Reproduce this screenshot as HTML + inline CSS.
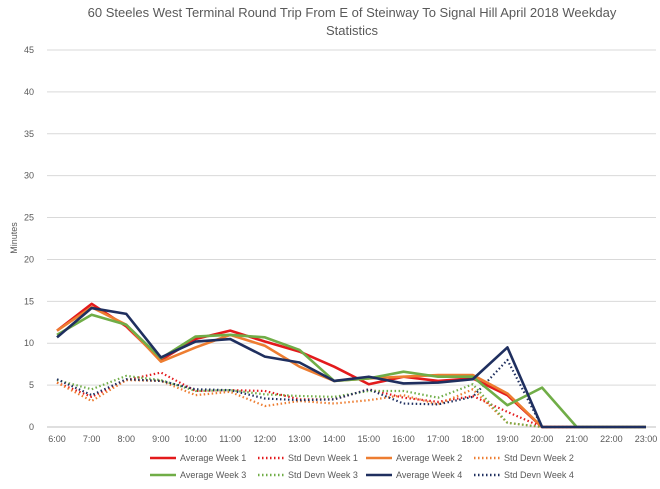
<!DOCTYPE html>
<html><head><meta charset="utf-8"><style>
body{margin:0;background:#fff;font-family:"Liberation Sans",sans-serif;}
</style></head><body>
<svg id="c" width="660" height="484" xmlns="http://www.w3.org/2000/svg">
<text x="352" y="17" text-anchor="middle" font-size="13" fill="#595959">60 Steeles West Terminal Round Trip From E of Steinway To Signal Hill April 2018 Weekday</text>
<text x="352" y="35" text-anchor="middle" font-size="13" fill="#595959">Statistics</text>
<text transform="translate(17,238) rotate(-90)" text-anchor="middle" font-size="9" fill="#595959">Minutes</text>
<g id="grid"></g><g id="series"></g><g id="legend"></g>
</svg>
<script>
const hours=["6:00","7:00","8:00","9:00","10:00","11:00","12:00","13:00","14:00","15:00","16:00","17:00","18:00","19:00","20:00","21:00","22:00","23:00"];
const yTicks=[0,5,10,15,20,25,30,35,40,45];
const avgW1=[11.5,14.7,12,8,10.5,11.5,10.2,9,7.2,5.1,6,5.5,5.8,3.8,0,0,0,0];
const avgW2=[11.5,14.3,12.2,7.8,9.5,11,9.7,7.2,5.5,5.8,6,6.2,6.2,4,0,0,0,0];
const avgW3=[11,13.4,12.2,8.2,10.8,11,10.7,9.2,5.5,5.8,6.6,6,6,2.6,4.7,0,0,0];
const avgW4=[10.7,14.2,13.5,8.3,10.2,10.5,8.4,7.7,5.5,6,5.2,5.3,5.7,9.5,0,0,0,0];
const sdW1=[5.3,3.6,5.6,6.5,4.3,4.4,4.3,3.3,3.3,4.5,3.5,3,3.7,1.8,0,0,0,0];
const sdW2=[5.3,3.1,5.6,5.5,3.8,4.2,2.5,3.1,2.8,3.2,3.8,2.7,4.5,0.5,0,0,0,0];
const sdW3=[5.6,4.5,6.1,5.6,4.3,4.4,3.9,3.7,3.6,4.3,4.3,3.5,5.1,0.5,0,0,0,0];
const sdW4=[5.7,3.8,5.7,5.5,4.5,4.4,3.4,3.2,3.3,4.5,2.8,2.7,3.6,8,0,0,0,0];
const NS="http://www.w3.org/2000/svg";
const x0=57,x1=646,yB=427,yT=50,yMax=45;
const xs=i=>x0+i*(x1-x0)/(hours.length-1);
const ys=v=>yB-v/yMax*(yB-yT);
function mk(t,a,p){const e=document.createElementNS(NS,t);for(const k in a)e.setAttribute(k,a[k]);p.appendChild(e);return e;}
const grid=document.getElementById('grid');
yTicks.forEach(v=>{
  const l=mk('line',{x1:x0-10,x2:x1+10,y1:ys(v),y2:ys(v),stroke:v===0?'#bfbfbf':'#d9d9d9','stroke-width':1},grid);
  
  
  const t=mk('text',{x:34,y:ys(v)+3,'text-anchor':'end','font-size':9,fill:'#595959'},grid);t.textContent=v;
  
  
});
hours.forEach((h,i)=>{
  const t=mk('text',{x:xs(i),y:442,'text-anchor':'middle','font-size':9,fill:'#595959'},grid);t.textContent=h;
  
  
});
const series=[
 {n:"Average Week 1",d:avgW1,c:"#e31a1c",dash:false},
 {n:"Std Devn Week 1",d:sdW1,c:"#e31a1c",dash:true},
 {n:"Average Week 2",d:avgW2,c:"#ed7d31",dash:false},
 {n:"Std Devn Week 2",d:sdW2,c:"#ed7d31",dash:true},
 {n:"Average Week 3",d:avgW3,c:"#70ad47",dash:false},
 {n:"Std Devn Week 3",d:sdW3,c:"#70ad47",dash:true},
 {n:"Average Week 4",d:avgW4,c:"#1f2f5f",dash:false},
 {n:"Std Devn Week 4",d:sdW4,c:"#1f2f5f",dash:true}];
const sg=document.getElementById('series');
[1,3,5,7,0,2,4,6].forEach(k=>{
  const s=series[k];
  const p=mk('polyline',{points:s.d.map((v,i)=>xs(i)+','+ys(v)).join(' '),fill:'none',stroke:s.c,'stroke-width':s.dash?2.2:2.6,'stroke-dasharray':s.dash?'1.5 2.5':'none','stroke-linejoin':'round'},sg);
  
  
});
const lg=document.getElementById('legend');
series.forEach((s,i)=>{
  const col=i%4,row=Math.floor(i/4);
  const order=[[0,1],[2,3],[4,5],[6,7]];
  const bx=150+col*108,by=458+row*17;
  const g=mk('g',{},lg);
  
  
  mk('line',{x1:bx,x2:bx+26,y1:by,y2:by,stroke:s.c,'stroke-width':2.5,'stroke-dasharray':s.dash?'1.5 2.5':'none'},g);
  const t=mk('text',{x:bx+30,y:by+3,'font-size':9,fill:'#595959'},g);t.textContent=s.n;
});
</script>
</body></html>
